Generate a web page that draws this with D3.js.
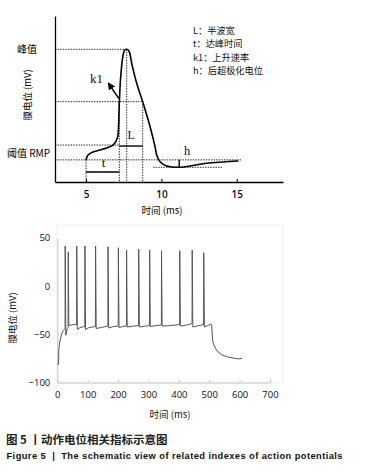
<!DOCTYPE html>
<html lang="zh">
<head>
<meta charset="utf-8">
<title>动作电位相关指标示意图</title>
<script src="https://d3js.org/d3.v7.min.js"></script>
<style>
  body { margin: 0; background: #fff; }
  svg text { font-family: "Noto Sans CJK SC", "Open Sans", sans-serif; }
</style>
</head>
<body>
<svg width="374" height="475"></svg>
<script>
// ---- data: schematic action potential (top) ----
var apTime = [5.0, 5.13, 5.46, 5.93, 6.46, 6.79, 6.99, 7.10, 7.21, 7.30, 7.44, 7.54, 7.70, 7.87, 8.03, 8.36, 8.76, 9.25, 9.58, 9.69, 9.91, 10.36, 11.13, 11.90, 13.01, 14.11, 15.11];
var apVolt = [-65, -60.6, -57.9, -56.1, -53.8, -51.6, -48, -44.1, -12.4, 10.1, 28.2, 33.6, 34.9, 32.7, 22.2, 4.2, -12.4, -35, -53.1, -60.6, -66.7, -70.5, -71.7, -70.5, -68.1, -66.9, -66];
var apTicks = [5, 10, 15];
var levels = {peak: 34.9, half: -12.4, thresh: -51.6, rmp: -65, ahp: -71.7};
var times = {start: 5, rise: 7.21, peak: 7.70, fall: 8.76, ahpFrom: 9.45, ahpTo: 14.1, ahpMin: 11.13, end: 15.3};
var legendLines = ["L：半波宽", "t：达峰时间", "k1：上升速率", "h：后超极化电位"];

// ---- data: recorded spike train (bottom) ----
var spikeT = [26, 36, 64, 91, 126, 167, 201, 228, 268, 304, 343, 403, 444, 482];
var spikeV = [41.5, 35.5, 41.5, 41.5, 41.5, 40.7, 39.7, 37.3, 38.3, 37.3, 36.6, 36.6, 37.3, 34.5];
var baseT = [0, 4, 5, 8, 14, 20, 25.5, 28, 33, 35.5, 38, 50, 63.5, 66, 75, 90.5, 93, 105, 125.5, 128, 145, 166.5, 169, 185, 200.5, 203, 215, 227.5, 230, 250, 267.5, 270, 290, 303.5, 306, 325, 342.5, 345, 370, 402.5, 405, 425, 443.5, 446, 465, 481.5, 484, 495, 505, 508, 511, 515, 525, 540, 560, 585, 600, 608];
var baseV = [-81, -81, -66, -58, -50, -46, -44, -51, -44, -43, -41, -40, -40, -45, -43, -42, -45, -43, -42, -44, -43, -41.5, -43.5, -42, -41.5, -43, -42, -41.5, -42.5, -41.5, -41, -42.5, -41.5, -41, -42, -41, -40.5, -41.5, -41, -40, -41.5, -40.5, -39, -42.5, -41, -40, -42.5, -41, -39.5, -40, -56, -61, -67, -71, -73.5, -75, -75.5, -75];
var trainXTicks = [0, 100, 200, 300, 400, 500, 600, 700];
var trainYTicks = [50, 0, -50, -100];

var svg = d3.select("svg");

// ================= top: schematic =================
var x1 = d3.scaleLinear().domain([2.94, 18.07]).range([55, 283]);
var y1 = d3.scaleLinear().domain([-85, 65]).range([182, 16]);
var gTop = svg.append("g");

var dotted = function(xa, ya, xb, yb) {
    gTop.append("line")
        .attr("x1", x1(xa)).attr("y1", y1(ya))
        .attr("x2", x1(xb)).attr("y2", y1(yb))
        .attr("stroke", "#222").attr("stroke-width", 1)
        .attr("stroke-dasharray", "1.4,1.2");
};
var x0 = x1.domain()[0], yb = y1.domain()[0];
dotted(x0, levels.peak, times.peak, levels.peak);
dotted(x0, levels.half, times.fall, levels.half);
dotted(x0, levels.thresh, times.rise, levels.thresh);
dotted(x0, levels.rmp, times.end, levels.rmp);
dotted(times.ahpFrom, levels.ahp, times.ahpTo, levels.ahp);
dotted(times.start, levels.rmp, times.start, yb);
dotted(times.rise, levels.half, times.rise, yb);
dotted(times.peak, levels.peak, times.peak, yb);
dotted(times.fall, levels.half, times.fall, yb);

// axes
var xAxis1 = d3.axisBottom(x1).tickValues(apTicks).tickSize(-3).tickSizeOuter(0).tickPadding(9);
var gx1 = gTop.append("g").attr("transform", "translate(0," + y1(yb) + ")").call(xAxis1);
gx1.select(".domain").attr("stroke", "#000").attr("stroke-width", 1.3);
gx1.selectAll(".tick line").attr("stroke", "#000");
gx1.selectAll("text").style("font-family", "Open Sans").attr("font-size", 10).attr("font-weight", 600).attr("fill", "#111");
var gy1 = gTop.append("g").attr("transform", "translate(" + x1(x0) + ",0)")
    .call(d3.axisLeft(y1).tickValues([]).tickSizeOuter(0));
gy1.select(".domain").attr("stroke", "#000").attr("stroke-width", 1.3);

// the AP curve
var apLine = d3.line()
    .x(function(d, i) { return x1(apTime[i]); })
    .y(function(d, i) { return y1(apVolt[i]); })
    .curve(d3.curveCatmullRom.alpha(0.5));
gTop.append("path").attr("d", apLine(apTime))
    .attr("fill", "none").attr("stroke", "#000").attr("stroke-width", 1.6);

// brackets
var solid = function(xa, ya, xb, yb2) {
    gTop.append("line")
        .attr("x1", x1(xa)).attr("y1", y1(ya))
        .attr("x2", x1(xb)).attr("y2", y1(yb2))
        .attr("stroke", "#000").attr("stroke-width", 1.4);
};
solid(times.rise, -52.5, times.fall, -52.5);
solid(times.start, -76, times.rise, -76);
solid(times.ahpMin + 0.05, levels.rmp, times.ahpMin + 0.05, levels.ahp);

var serif = function(txt, x, y, size) {
    gTop.append("text").attr("x", x).attr("y", y).text(txt)
        .style("font-family", "'Liberation Serif', 'DejaVu Serif', serif")
        .attr("font-size", size).attr("fill", "#111");
};
serif("L", x1(7.75), y1(-46.5), 12);
serif("t", x1(6.05), y1(-71.5), 13);
serif("h", x1(11.5), y1(-61), 12.5);
serif("k1", 90, 83, 13);

// k1 arrow
svg.append("defs").append("marker")
    .attr("id", "arr").attr("viewBox", "0 0 10 10").attr("refX", 8).attr("refY", 5)
    .attr("markerWidth", 5).attr("markerHeight", 5).attr("orient", "auto")
    .append("path").attr("d", "M0,0 L10,5 L0,10 z").attr("fill", "#000");
gTop.append("line")
    .attr("x1", x1(times.rise) - 0.5).attr("y1", y1(levels.half) - 3)
    .attr("x2", x1(6.5)).attr("y2", y1(4))
    .attr("stroke", "#000").attr("stroke-width", 1.5)
    .attr("marker-end", "url(#arr)");

// legend
gTop.selectAll(".lg").data(legendLines).enter().append("text")
    .attr("x", 193).attr("y", function(d, i) { return 34 + i * 13.4; })
    .attr("font-size", 9.2).attr("fill", "#111").text(function(d) { return d; });

// left labels
gTop.append("text").attr("x", 27).attr("y", y1(levels.peak) + 3.5).attr("text-anchor", "middle")
    .attr("font-size", 10).text("峰值");
gTop.append("text").attr("x", 7).attr("y", 157).attr("font-size", 10).text("阈值 RMP");
gTop.append("text").attr("transform", "translate(31,95) rotate(-90)").attr("text-anchor", "middle")
    .attr("font-size", 9.5).text("膜电位 (mV)");
gTop.append("text").attr("x", 162).attr("y", 213.5).attr("text-anchor", "middle")
    .attr("font-size", 9.5).text("时间 (ms)");

// ================= bottom: spike train =================
var x2 = d3.scaleLinear().domain([0, 700]).range([57.3, 270]);
var y2 = d3.scaleLinear().domain([-100, 50]).range([382.5, 237.8]);
var gBot = svg.append("g");

gBot.append("rect").attr("x", 57).attr("y", 225).attr("width", 226).attr("height", 158)
    .attr("fill", "none").attr("stroke", "#f1f1f1");

var gx2 = gBot.append("g").attr("transform", "translate(0," + y2(-100) + ")")
    .call(d3.axisBottom(x2).tickValues(trainXTicks).tickSize(-2.5).tickSizeOuter(0).tickPadding(9));
gx2.select(".domain").attr("stroke", "#c4c4c4");
gx2.selectAll(".tick line").attr("stroke", "#c4c4c4");
gx2.selectAll("text").style("font-family", "Open Sans").attr("font-size", 9.5).attr("fill", "#111");

var gy2 = gBot.append("g").attr("transform", "translate(" + x2(0) + ",0)")
    .call(d3.axisLeft(y2).tickValues(trainYTicks).tickSize(0).tickSizeOuter(0).tickPadding(7));
gy2.select(".domain").attr("stroke", "#c4c4c4");
gy2.selectAll("text").style("font-family", "Open Sans").attr("font-size", 9.5).attr("fill", "#111");

// merge baseline and spike peaks into one trace
var trace = baseT.map(function(t, i) { return [t, baseV[i]]; })
    .concat(spikeT.map(function(t, i) { return [t, spikeV[i]]; }))
    .sort(function(a, b) { return a[0] - b[0]; });
var trainLine = d3.line()
    .x(function(d) { return x2(d[0]); })
    .y(function(d) { return y2(d[1]); });
gBot.append("path").attr("d", trainLine(trace))
    .attr("fill", "none").attr("stroke", "#555").attr("stroke-width", 1)
    .attr("stroke-linejoin", "round");

gBot.append("text").attr("transform", "translate(16,318) rotate(-90)").attr("text-anchor", "middle")
    .attr("font-size", 9.5).attr("fill", "#111").text("膜电位 (mV)");
gBot.append("text").attr("x", 170).attr("y", 417.5).attr("text-anchor", "middle")
    .attr("font-size", 9.5).attr("fill", "#111").text("时间 (ms)");

// ================= caption =================
svg.append("text").attr("x", 6).attr("y", 444).attr("font-size", 11.5).attr("font-weight", 700)
    .attr("fill", "#222").text("图 5 丨动作电位相关指标示意图");
svg.append("text").attr("x", 6.5).attr("y", 459).style("font-family", "'Liberation Sans', Arial, sans-serif")
    .style("white-space", "pre")
    .attr("font-size", 9.3).attr("font-weight", 700).attr("fill", "#111")
    .attr("textLength", 336).attr("lengthAdjust", "spacing")
    .text("Figure 5  |  The schematic view of related indexes of action potentials");
</script>
</body>
</html>
